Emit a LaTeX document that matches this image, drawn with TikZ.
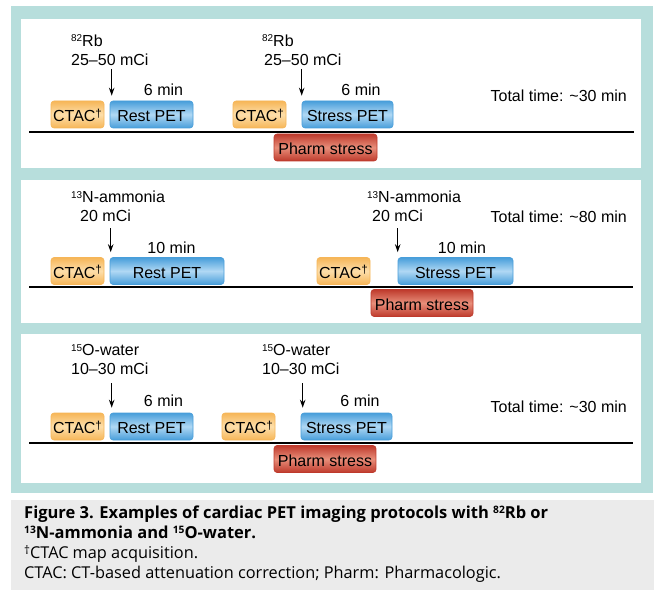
\documentclass[tikz,border=0pt]{standalone}
\usepackage{fontspec}
\setmainfont{Liberation Sans}
\newfontfamily\capfont{Open Sans}
\usepackage{graphicx}
\usepackage{tikz}
\usetikzlibrary{arrows.meta}

\newcommand{\iso}[1]{\raisebox{.3em}{\scalebox{.62}{#1}}}
\newcommand{\dg}{\raisebox{.28em}{\scalebox{.72}{†}}}

\definecolor{frameteal}{RGB}{183,222,220}
\definecolor{capgray}{RGB}{235,235,235}
\definecolor{ctacedge}{RGB}{246,182,88}
\definecolor{ctacmid}{RGB}{253,222,170}
\definecolor{petedge}{RGB}{72,158,218}
\definecolor{petmid}{RGB}{176,216,244}
\definecolor{pharmedge}{RGB}{190,58,44}
\definecolor{pharmmid}{RGB}{232,142,122}

\begin{document}
\begin{tikzpicture}[
        x=1pt, y=-1pt,
        box/.style={rectangle, rounded corners=3pt, minimum height=27pt, inner sep=0pt, line width=0.6pt, font=\fontsize{16}{19}\selectfont, text height=14.7pt, text depth=0pt},
        ctac/.style={box, minimum width=53pt, draw=ctacedge, top color=ctacedge, bottom color=ctacedge, middle color=ctacmid},
        pet/.style={box, draw=petedge, top color=petedge, bottom color=petedge, middle color=petmid},
        pharm/.style={box, draw=pharmedge, top color=pharmedge, bottom color=pharmedge, middle color=pharmmid},
        dose/.style={anchor=north west, align=left, inner sep=0pt, font=\fontsize{16}{19}\selectfont},
        dur/.style={inner sep=0pt, font=\fontsize{16}{19}\selectfont},
        total/.style={anchor=east, inner sep=0pt, font=\fontsize{16}{19}\selectfont},
        timeline/.style={line width=1.8pt},
        arrow/.style={-{Stealth[length=8pt, width=5.5pt]}, line width=1.3pt},
        captitle/.style={anchor=north west, align=left, inner sep=0pt, font=\capfont\bfseries\fontsize{16.5}{20}\selectfont},
        capnote/.style={anchor=north west, align=left, inner sep=0pt, font=\capfont\fontsize{16.3}{20}\selectfont}
    ]
        \useasboundingbox (0,0) rectangle (658,596);
        \fill[frameteal] (11,6) rectangle (653,493);
        \fill[white] (21,19) rectangle (641,168);
        \fill[white] (21,180) rectangle (641,323);
        \fill[white] (21,334) rectangle (641,483);
        \fill[capgray] (11,500) rectangle (654,590);

        % 82Rb
        \node[dose] (rbA) at (71,34.5) {\iso{82}Rb\\25–50 mCi};
        \node[dose] (rbB) at (262,34.5) {\iso{82}Rb\\\hspace*{2pt}25–50 mCi};
        \node[dur] (minA) at (163.5,90) {6 min};
        \node[dur] (minB) at (361,90) {6 min};
        \node[total] (totA) at (627,96) {Total time: \textasciitilde 30 min};
        \node[ctac] (ctacA) at (77.5,114.5) {CTAC\dg};
        \node[pet, minimum width=83pt] (restA) at (151.5,114.5) {Rest PET};
        \node[ctac] (ctacB) at (259.5,114.5) {CTAC\dg};
        \node[pet, minimum width=91pt] (stressA) at (347.5,114.5) {Stress PET};
        \coordinate (lineAw) at (29,132);
        \coordinate (lineAe) at (634,132);
        \draw[timeline] (lineAw) -- (lineAe);
        \node[pharm, minimum width=103pt] (pharmA) at (325.5,147.5) {Pharm stress};
        \draw[arrow, shorten <=3pt] ([xshift=2pt]restA.north west |- rbA.south) -- ([xshift=2pt, yshift=5pt]restA.north west);
        \draw[arrow, shorten <=3pt] (stressA.north west |- rbB.south) -- ([yshift=5pt]stressA.north west);

        % 13N-ammonia
        \node[dose] (nhA) at (71,191) {\iso{13}N-ammonia\\\hspace*{9pt}20 mCi};
        \node[dose] (nhB) at (367,191) {\iso{13}N-ammonia\\\hspace*{5pt}20 mCi};
        \node[dur] (minC) at (171.5,248) {10 min};
        \node[dur] (minD) at (462,248) {10 min};
        \node[total] (totB) at (627,217) {Total time: \textasciitilde 80 min};
        \node[ctac] (ctacC) at (77.5,271) {CTAC\dg};
        \node[pet, minimum width=114pt] (restB) at (167,271) {Rest PET};
        \node[ctac] (ctacD) at (343.5,271) {CTAC\dg};
        \node[pet, minimum width=115pt] (stressB) at (455.5,271) {Stress PET};
        \coordinate (lineBw) at (29,287);
        \coordinate (lineBe) at (633,287);
        \draw[timeline] (lineBw) -- (lineBe);
        \node[pharm, minimum width=102pt] (pharmB) at (422,303) {Pharm stress};
        \draw[arrow, shorten <=6pt] ([xshift=1pt]restB.north west |- nhA.south) -- ([xshift=1pt, yshift=5pt]restB.north west);
        \draw[arrow, shorten <=6pt] (stressB.north west |- nhB.south) -- ([yshift=5pt]stressB.north west);

        % 15O-water
        \node[dose] (owA) at (71,344) {\iso{15}O-water\\10–30 mCi};
        \node[dose] (owB) at (262,344) {\iso{15}O-water\\10–30 mCi};
        \node[dur] (minE) at (163.5,401) {6 min};
        \node[dur] (minF) at (360,401) {6 min};
        \node[total] (totC) at (627,407) {Total time: \textasciitilde 30 min};
        \node[ctac] (ctacE) at (77.5,426.5) {CTAC\dg};
        \node[pet, minimum width=83pt] (restC) at (151.5,426.5) {Rest PET};
        \node[ctac] (ctacF) at (248.5,426.5) {CTAC\dg};
        \node[pet, minimum width=91pt] (stressC) at (346.5,426.5) {Stress PET};
        \coordinate (lineCw) at (29,443);
        \coordinate (lineCe) at (633,443);
        \draw[timeline] (lineCw) -- (lineCe);
        \node[pharm, minimum width=102pt] (pharmC) at (325,459) {Pharm stress};
        \draw[arrow, shorten <=8pt] ([xshift=2pt]restC.north west |- owA.south) -- ([xshift=2pt, yshift=5pt]restC.north west);
        \draw[arrow, shorten <=8pt] ([xshift=2pt]stressC.north west |- owB.south) -- ([xshift=2pt, yshift=5pt]stressC.north west);

        \node[captitle] (capTitle) at (24,505.5) {Figure 3. Examples of cardiac PET imaging protocols with \iso{82}Rb or\\\iso{13}N-ammonia and \iso{15}O-water.};
        \node[capnote] (capNote) at (24,545) {\dg CTAC map acquisition.\\CTAC: CT-based attenuation correction; Pharm: Pharmacologic.};
    \end{tikzpicture}
\end{document}
